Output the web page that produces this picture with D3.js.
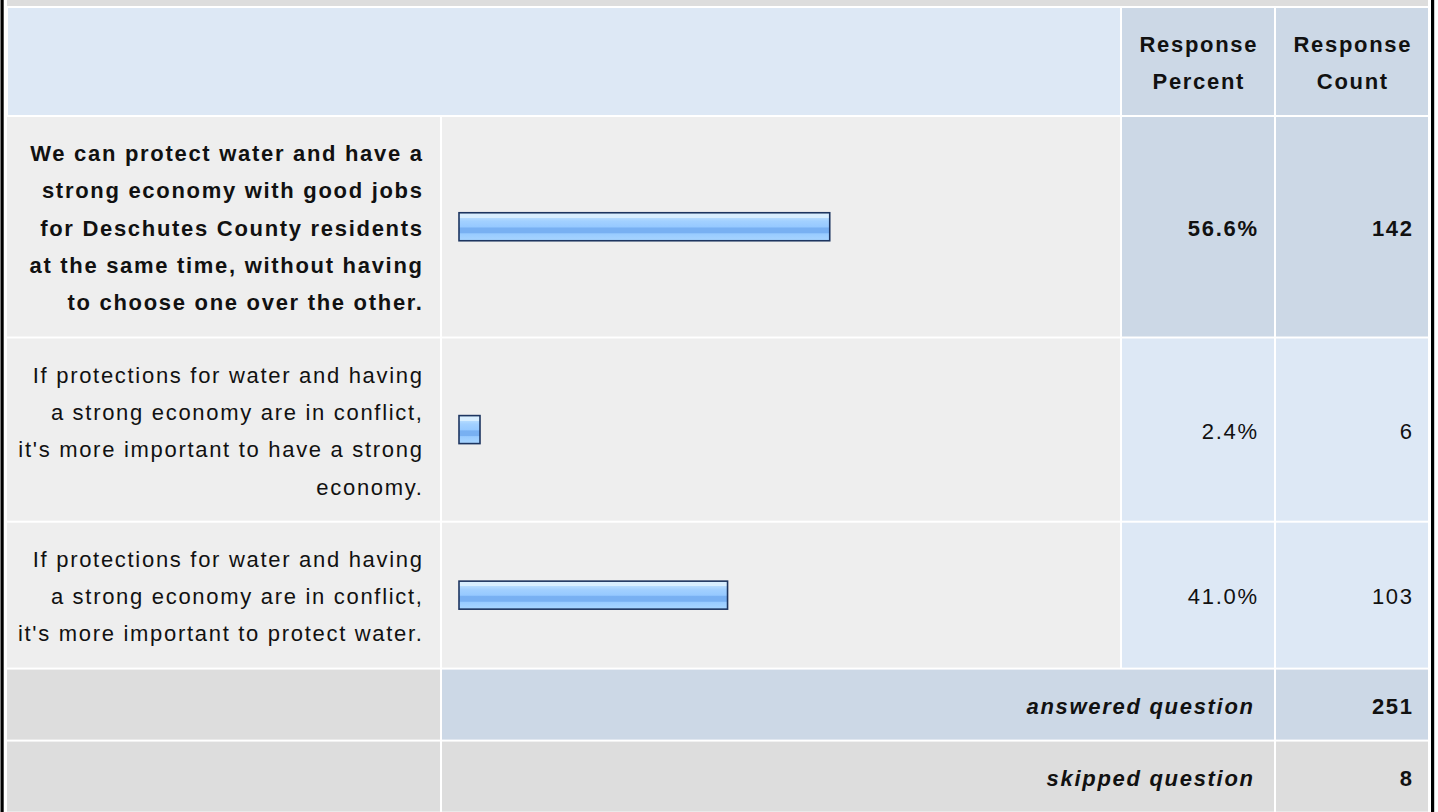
<!DOCTYPE html>
<html>
<head>
<meta charset="utf-8">
<script src="https://cdn.jsdelivr.net/npm/d3@7"></script>
<style>
  body { margin: 0; background: #fff; }
  svg text { font-family: 'Liberation Sans', Arial, sans-serif; font-size: 22px; letter-spacing: 1.7px; fill: #111; }
</style>
</head>
<body>
<div id="graf"></div>
<script>
// datos
const respuestas = [
  'We can protect water and have a\nstrong economy with good jobs\nfor Deschutes County residents\nat the same time, without having\nto choose one over the other.',
  'If protections for water and having\na strong economy are in conflict,\nit\'s more important to have a strong\neconomy.',
  'If protections for water and having\na strong economy are in conflict,\nit\'s more important to protect water.'
]
const porcentajes = [56.6, 2.4, 41.0]
const conteos = [142, 6, 103]
const encabezados = ['Response\nPercent', 'Response\nCount']
const pie = [
  { txt: 'answered question', n: 251 },
  { txt: 'skipped question', n: 8 }
]

const anchoTotal = 1438
const altoTotal = 812

const svg = d3.select('#graf')
  .append('svg')
  .attr('width', anchoTotal)
  .attr('height', altoTotal)

const lineH = 37.3
const pad = 16.5
const gap = 2
const ls = 1.7

// columnas: etiqueta, barra, porcentaje, conteo
const colW = [433, 678, 152, 152]
const colX = []
colW.reduce((acc, w) => { colX.push(acc); return acc + w + gap }, 7)
const colR = colX.map((x, i) => x + colW[i])

const azulClaro = '#dde8f5'
const azulMedio = '#ccd8e6'
const gris = '#eeeeee'
const grisOsc = '#dddddd'

const maxIdx = d3.maxIndex(porcentajes)

// gradiente de barras
const defs = svg.append('defs')
const grad = defs.append('linearGradient')
  .attr('id', 'barGrad')
  .attr('x1', 0).attr('y1', 0).attr('x2', 0).attr('y2', 1)
const stops = [
  [0, '#d8eeff'], [0.18, '#d8eeff'], [0.18, '#b6dcff'], [0.3, '#a2d0ff'],
  [0.5, '#96c9ff'], [0.55, '#78b0f2'], [0.72, '#78b0f2'], [0.75, '#98cbff'],
  [1, '#a8d5ff']
]
stops.forEach(s => grad.append('stop').attr('offset', s[0]).attr('stop-color', s[1]))

// marco exterior
svg.append('rect').attr('x', 7).attr('y', 0).attr('width', colR[3] - 7).attr('height', 6).attr('fill', grisOsc)
svg.append('rect').attr('x', 0.5).attr('y', 0).attr('width', 3.2).attr('height', altoTotal).attr('fill', '#000')
svg.append('rect').attr('x', 1431).attr('y', 0).attr('width', 3.2).attr('height', altoTotal).attr('fill', '#000')

function lineas(sel, texto, x, cy, anchor, weight, style) {
  const partes = texto.split('\n')
  const t = sel.append('text')
    .attr('text-anchor', anchor)
    .attr('font-weight', weight || 'normal')
    .attr('font-style', style || 'normal')
  partes.forEach((l, i) => {
    t.append('tspan')
      .attr('x', anchor === 'end' ? x + ls : x + ls / 2)
      .attr('y', cy - (partes.length - 1) * lineH / 2 + i * lineH + 9)
      .text(l)
  })
  return t
}

// encabezado
const headTop = 8
const headH = 107
svg.append('rect').attr('x', 8).attr('y', headTop).attr('width', colR[1] - 8).attr('height', headH).attr('fill', azulClaro)
encabezados.forEach((h, i) => {
  const c = i + 2
  svg.append('rect').attr('x', colX[c]).attr('y', headTop).attr('width', colW[c]).attr('height', headH).attr('fill', azulMedio)
  lineas(svg, h, colX[c] + colW[c] / 2, headTop + headH / 2, 'middle', 'bold')
})

// filas
const filas = respuestas.map((r, i) => ({
  label: r,
  pct: porcentajes[i],
  n: conteos[i],
  h: r.split('\n').length * lineH + 2 * pad
}))
let yAcc = headTop + headH + gap
filas.forEach(f => { f.y = yAcc; yAcc += f.h + gap })

const x = d3.scaleLinear().domain([0, 100]).range([0, 655])

const g = svg.selectAll('g.fila').data(filas).enter().append('g').attr('class', 'fila')

g.append('rect').attr('x', colX[0]).attr('y', d => d.y).attr('width', colW[0]).attr('height', d => d.h).attr('fill', gris)
g.append('rect').attr('x', colX[1]).attr('y', d => d.y).attr('width', colW[1]).attr('height', d => d.h).attr('fill', gris)
g.append('rect').attr('x', colX[2]).attr('y', d => d.y).attr('width', colW[2]).attr('height', d => d.h)
  .attr('fill', (d, i) => i === maxIdx ? azulMedio : azulClaro)
g.append('rect').attr('x', colX[3]).attr('y', d => d.y).attr('width', colW[3]).attr('height', d => d.h)
  .attr('fill', (d, i) => i === maxIdx ? azulMedio : azulClaro)

g.each(function (d, i) {
  const sel = d3.select(this)
  const cy = d.y + d.h / 2
  const w = i === maxIdx ? 'bold' : 'normal'
  lineas(sel, d.label, colR[0] - 18, cy, 'end', w)
  lineas(sel, d3.format('.1f')(d.pct) + '%', colR[2] - 17, cy, 'end', w)
  lineas(sel, String(d.n), colR[3] - 16, cy, 'end', w)
})

// barras
g.append('rect')
  .attr('x', colX[1] + 17)
  .attr('y', d => d.y + d.h / 2 - 14)
  .attr('width', d => Math.max(x(d.pct), 21))
  .attr('height', 28)
  .attr('fill', 'url(#barGrad)')
  .attr('stroke', '#1d3560')
  .attr('stroke-width', 1.6)

// pie de tabla
const pieH = 70
pie.forEach((p, i) => {
  const yy = yAcc + i * (pieH + gap)
  const fondo = i === 0 ? azulMedio : grisOsc
  svg.append('rect').attr('x', colX[0]).attr('y', yy).attr('width', colW[0]).attr('height', pieH).attr('fill', grisOsc)
  svg.append('rect').attr('x', colX[1]).attr('y', yy).attr('width', colR[2] - colX[1]).attr('height', pieH).attr('fill', fondo)
  svg.append('rect').attr('x', colX[3]).attr('y', yy).attr('width', colW[3]).attr('height', pieH).attr('fill', fondo)
  lineas(svg, p.txt, colR[2] - 21, yy + pieH / 2, 'end', 'bold', 'italic')
  lineas(svg, String(p.n), colR[3] - 16, yy + pieH / 2, 'end', 'bold')
})
</script>
</body>
</html>
